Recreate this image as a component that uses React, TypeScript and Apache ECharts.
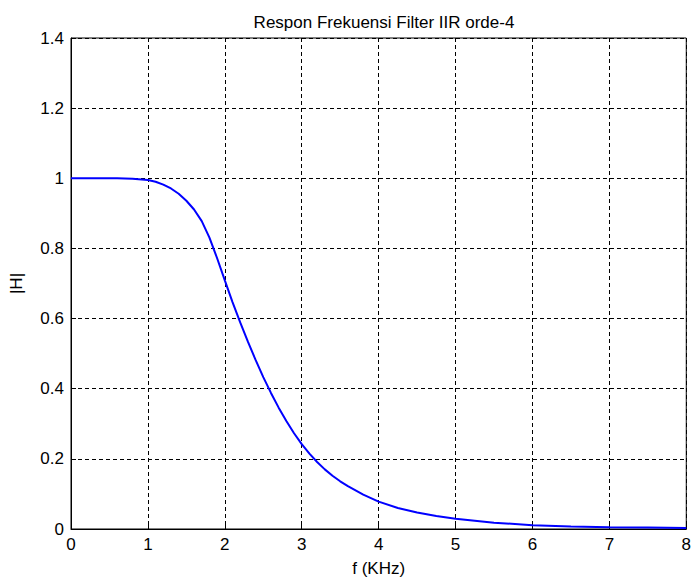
import React, { useEffect, useRef } from "react";
import * as echarts from "echarts";

const freqKHz = [0, 0.3, 0.6, 0.8, 1.0, 1.1, 1.2, 1.3, 1.4, 1.5, 1.6, 1.7, 1.8, 1.9, 2.0, 2.1, 2.2, 2.3, 2.4, 2.5, 2.6, 2.7, 2.8, 2.9, 3.0, 3.1, 3.2, 3.3, 3.4, 3.5, 3.6, 3.8, 4.0, 4.25, 4.5, 4.75, 5.0, 5.5, 6.0, 6.5, 7.0, 7.5, 8.0];
const magnitude = [1.0, 1.0, 1.0, 0.999, 0.995, 0.99, 0.982, 0.971, 0.956, 0.936, 0.911, 0.878, 0.831, 0.772, 0.709, 0.647, 0.589, 0.534, 0.482, 0.433, 0.388, 0.346, 0.308, 0.273, 0.242, 0.215, 0.191, 0.17, 0.152, 0.136, 0.122, 0.098, 0.078, 0.06, 0.047, 0.037, 0.029, 0.018, 0.011, 0.007, 0.005, 0.004, 0.003];
const titleText = "Respon Frekuensi Filter IIR orde-4";
const xLabel = "f (KHz)";
const yLabel = "|H|";

export default function App() {
  const ref = useRef<HTMLDivElement>(null);
  useEffect(() => {
    if (!ref.current) return;
    const chart = echarts.init(ref.current, null, { renderer: "svg" });
    const font = "'Liberation Sans', Arial, sans-serif";
    const data = freqKHz.map((f, i) => [f, magnitude[i]]);
    chart.setOption({
      animation: false,
      backgroundColor: "#ffffff",
      title: {
        text: titleText,
        left: 379,
        top: 9,
        textAlign: "center",
        textStyle: { fontFamily: font, fontSize: 17, fontWeight: "normal", color: "#000" },
      },
      grid: {
        left: 69,
        right: 5,
        top: 38,
        bottom: 50,
        show: true,
        borderColor: "#000",
        borderWidth: 1,
        backgroundColor: "#fff",
      },
      xAxis: {
        type: "value",
        min: 0,
        max: 8,
        interval: 1,
        name: xLabel,
        nameLocation: "middle",
        nameGap: 31,
        nameTextStyle: { fontFamily: font, fontSize: 17, color: "#000" },
        axisLine: { show: true, lineStyle: { color: "#000", width: 1 } },
        axisTick: { show: true, inside: true, length: 5, lineStyle: { color: "#000" } },
        axisLabel: { fontFamily: font, fontSize: 17, color: "#000", margin: 7 },
        splitLine: { show: true, lineStyle: { color: "#000", type: [4, 3], width: 1 } },
      },
      yAxis: {
        type: "value",
        min: 0,
        max: 1.4,
        interval: 0.2,
        name: yLabel,
        nameLocation: "middle",
        nameGap: 46,
        nameTextStyle: { fontFamily: font, fontSize: 17, color: "#000" },
        axisLine: { show: true, lineStyle: { color: "#000", width: 1 } },
        axisTick: { show: true, inside: true, length: 5, lineStyle: { color: "#000" } },
        axisLabel: { fontFamily: font, fontSize: 17, color: "#000", margin: 7 },
        splitLine: { show: true, lineStyle: { color: "#000", type: [4, 3], width: 1 } },
      },
      series: [
        {
          type: "line",
          data,
          smooth: false,
          showSymbol: false,
          lineStyle: { color: "#0000ff", width: 2 },
          itemStyle: { color: "#0000ff" },
        },
      ],
    });
    return () => chart.dispose();
  }, []);
  return <div ref={ref} style={{ width: 694, height: 582, position: "absolute", left: 0, top: 0 }} />;
}
